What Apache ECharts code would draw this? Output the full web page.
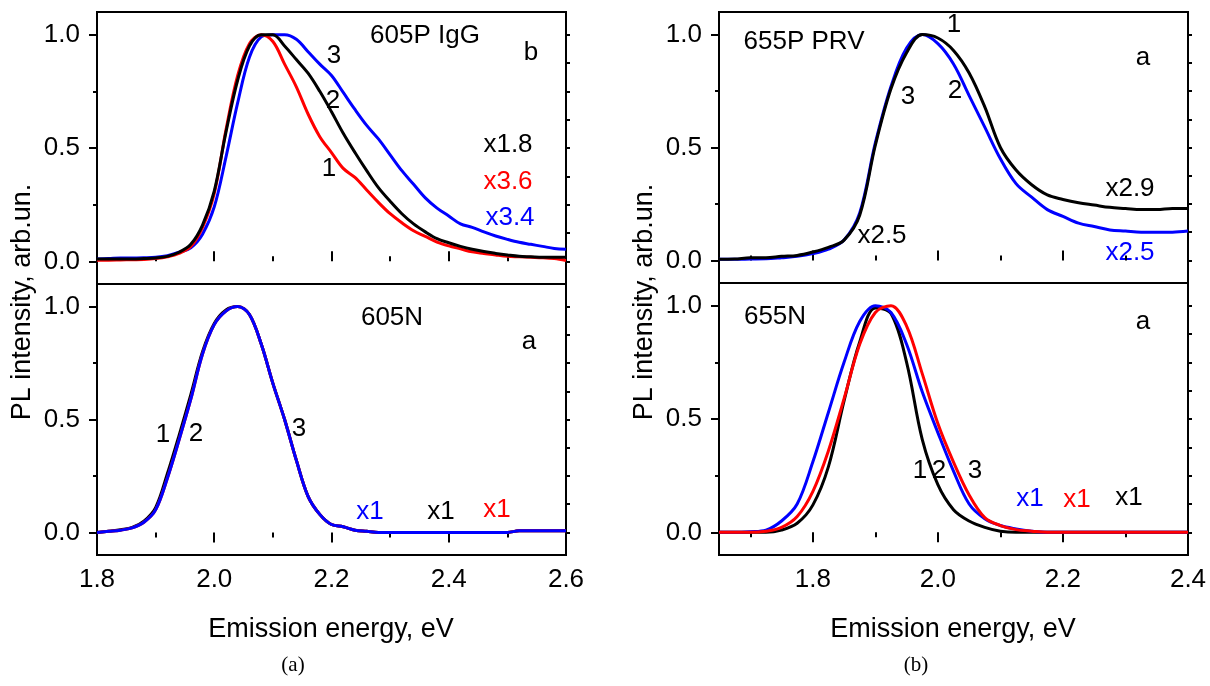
<!DOCTYPE html>
<html><head><meta charset="utf-8">
<script src="https://cdn.jsdelivr.net/npm/echarts@6/dist/echarts.min.js"></script>
<style>html,body{margin:0;padding:0;background:#fff}#c{width:1210px;height:686px}</style>
</head><body><div id="c"></div>
<script>
// ---------- data ----------
const energyA = [1.80,1.82,1.84,1.86,1.88,1.90,1.92,1.94,1.96,1.98,2.00,2.02,2.04,2.06,2.08,2.10,2.12,2.14,2.16,2.18,2.20,2.22,2.24,2.26,2.28,2.30,2.32,2.34,2.36,2.38,2.40,2.42,2.44,2.46,2.48,2.50,2.52,2.54,2.56,2.58,2.60];
const energyB = [1.650,1.675,1.700,1.725,1.750,1.775,1.800,1.825,1.850,1.875,1.900,1.925,1.950,1.975,2.000,2.025,2.050,2.075,2.100,2.125,2.150,2.175,2.200,2.225,2.250,2.275,2.300,2.325,2.350,2.375,2.400];

// 605P IgG (panel a, top)
const igg1 = [0.005,0.005,0.006,0.007,0.008,0.012,0.02,0.035,0.065,0.15,0.30,0.58,0.82,0.96,1.0,0.97,0.87,0.77,0.65,0.55,0.48,0.41,0.37,0.315,0.26,0.21,0.17,0.135,0.11,0.085,0.068,0.055,0.042,0.035,0.028,0.022,0.02,0.018,0.016,0.012,0.004];
const igg2 = [0.01,0.01,0.01,0.01,0.012,0.015,0.022,0.04,0.075,0.16,0.31,0.57,0.80,0.95,1.0,1.0,0.95,0.89,0.83,0.75,0.66,0.565,0.48,0.40,0.325,0.265,0.21,0.165,0.13,0.10,0.082,0.066,0.053,0.043,0.035,0.028,0.022,0.02,0.018,0.018,0.018];
const igg3 = [0.01,0.012,0.015,0.015,0.016,0.018,0.025,0.04,0.06,0.12,0.24,0.46,0.70,0.90,0.99,1.0,1.0,0.98,0.925,0.87,0.82,0.745,0.67,0.60,0.54,0.47,0.40,0.34,0.28,0.235,0.20,0.165,0.15,0.13,0.112,0.097,0.084,0.075,0.066,0.057,0.053];

// 605N (panel a, bottom)
const n605_1 = [0.0,0.005,0.012,0.022,0.05,0.11,0.26,0.43,0.61,0.80,0.925,0.985,1.0,0.965,0.835,0.66,0.50,0.32,0.16,0.08,0.035,0.025,0.01,0.005,0.0,0.0,0.0,0.0,0.0,0.0,0.0,0.0,0.0,0.0,0.0,0.0,0.007,0.007,0.007,0.007,0.007];
const n605_2 = [0.0,0.005,0.01,0.02,0.045,0.10,0.24,0.41,0.59,0.79,0.92,0.98,1.0,0.965,0.835,0.66,0.50,0.32,0.16,0.08,0.035,0.025,0.01,0.005,0.0,0.0,0.0,0.0,0.0,0.0,0.0,0.0,0.0,0.0,0.0,0.0,0.007,0.007,0.007,0.007,0.007];
const n605_3 = [0.0,0.005,0.01,0.02,0.045,0.10,0.24,0.41,0.59,0.79,0.92,0.98,1.0,0.965,0.835,0.66,0.50,0.32,0.16,0.08,0.035,0.025,0.01,0.005,0.0,0.0,0.0,0.0,0.0,0.0,0.0,0.0,0.0,0.0,0.0,0.0,0.007,0.007,0.007,0.007,0.007];

// 655P PRV (panel b, top)
const prv1 = [0.005,0.006,0.012,0.012,0.018,0.022,0.037,0.058,0.09,0.20,0.51,0.76,0.92,1.0,0.985,0.93,0.83,0.68,0.50,0.40,0.335,0.29,0.27,0.255,0.245,0.235,0.23,0.225,0.225,0.23,0.23];
const prv2 = [0.005,0.005,0.006,0.007,0.012,0.018,0.03,0.05,0.09,0.21,0.52,0.77,0.94,1.0,0.96,0.87,0.73,0.59,0.45,0.34,0.28,0.225,0.195,0.165,0.15,0.135,0.13,0.125,0.125,0.125,0.13];

// 655N (panel b, bottom)
const n655_1 = [0,0,0,0,0.01,0.04,0.12,0.29,0.58,0.84,0.99,0.965,0.75,0.41,0.21,0.10,0.05,0.022,0.005,0,0,0,0,0,0,0,0,0,0,0,0];
const n655_2 = [0,0,0,0.005,0.022,0.07,0.18,0.36,0.59,0.83,0.97,1.0,0.91,0.70,0.48,0.31,0.165,0.065,0.03,0.012,0.005,0,0,0,0,0,0,0,0,0,0];
const n655_3 = [0,0,0.003,0.01,0.05,0.125,0.31,0.53,0.75,0.93,1.0,0.97,0.83,0.62,0.44,0.27,0.125,0.06,0.03,0.015,0.005,0,0,0,0,0,0,0,0,0,0];

// tick values
const ticksA = [1.8,2.0,2.2,2.4,2.6];
const minorA = [1.9,2.1,2.3,2.5];
const ticksB = [1.8,2.0,2.2,2.4];
const minorB = [1.7,1.9,2.1,2.3];
const ticksY = [0,0.5,1.0];
const minorY = [0.25,0.75];
const rightY = [0,0.125,0.25,0.375,0.5,0.625,0.75,0.875,1.0];

// text annotations: [text, color, x px, y px]
const notes = [
  ['605P IgG','#000',425,36],['b','#000',531,53],['3','#000',334,56],['2','#000',333,101],['1','#000',329,169],
  ['x1.8','#000',508,145],['x3.6','#ff0000',508,182],['x3.4','#0000ff',510,218],
  ['605N','#000',392,318],['a','#000',529,342],['1','#000',163,435],['2','#000',196,434],['3','#000',299,429],
  ['x1','#0000ff',370,512],['x1','#000',441,512],['x1','#ff0000',497,510],
  ['655P PRV','#000',804,42],['1','#000',954,25],['3','#000',908,97],['2','#000',955,91],['a','#000',1143,58],
  ['x2.5','#000',882,236],['x2.9','#000',1130,189],['x2.5','#0000ff',1130,253],
  ['655N','#000',775,317],['a','#000',1143,322],['1','#000',920,471],['2','#000',939,471],['3','#000',975,471],
  ['x1','#0000ff',1030,499],['x1','#ff0000',1077,500],['x1','#000',1129,498]
];

// ---------- chart ----------
const FONT = '"Liberation Sans", Arial, Helvetica, sans-serif';
const chart = echarts.init(document.getElementById('c'), null, {renderer:'canvas'});

const gridsPx = [
  {left:97, top:12, width:469, height:272},
  {left:97, top:284, width:469, height:271},
  {left:719, top:12, width:469, height:271},
  {left:719, top:283, width:469, height:272}
];
const grid = gridsPx.map(g => Object.assign({show:true, borderColor:'#000', borderWidth:2, containLabel:false, outerBoundsMode:'none', backgroundColor:'transparent'}, g));

const tickStyle = {color:'#000', width:2};
function xAxes(g, min, max, major, minor, labels) {
  const inside = !labels;
  return [
    {type:'value', gridIndex:g, position:'bottom', min, max, axisLine:{show:false}, splitLine:{show:false},
     axisTick:{show:true, inside, length:10, lineStyle:tickStyle, customValues:major},
     axisLabel:{show:labels, customValues:major, margin:12, color:'#000', fontSize:26, fontFamily:FONT,
                formatter:v=>Number(v).toFixed(1)}},
    {type:'value', gridIndex:g, position:'bottom', min, max, axisLine:{show:false}, splitLine:{show:false},
     axisTick:{show:true, inside, length:5, lineStyle:tickStyle, customValues:minor},
     axisLabel:{show:false}}
  ];
}
function yAxes(g) {
  const base = {type:'value', gridIndex:g, min:-0.1, max:1.1, axisLine:{show:false}, splitLine:{show:false}};
  return [
    Object.assign({}, base, {position:'left',
      axisTick:{show:true, length:8, lineStyle:tickStyle, customValues:ticksY},
      axisLabel:{show:true, customValues:ticksY, margin:17, color:'#000', fontSize:26, fontFamily:FONT,
                 formatter:v=>Number(v).toFixed(1)}}),
    Object.assign({}, base, {position:'left',
      axisTick:{show:true, length:4, lineStyle:tickStyle, customValues:minorY}, axisLabel:{show:false}}),
    Object.assign({}, base, {position:'right',
      axisTick:{show:true, length:4, lineStyle:tickStyle, customValues:rightY}, axisLabel:{show:false}})
  ];
}

const xAxis = [].concat(
  xAxes(0, 1.8, 2.6, ticksA, minorA, false),
  xAxes(1, 1.8, 2.6, ticksA, minorA, true),
  xAxes(2, 1.65, 2.4, ticksB, minorB, false),
  xAxes(3, 1.65, 2.4, ticksB, minorB, true)
);
const yAxis = [].concat(yAxes(0), yAxes(1), yAxes(2), yAxes(3));

function line(xs, ys, color, p) {
  return {type:'line', xAxisIndex:2*p, yAxisIndex:3*p, data:xs.map((x,i)=>[x, ys[i]]),
    showSymbol:false, symbol:'none', smooth:0.35, silent:true,
    lineStyle:{color, width:3, join:'round'}, itemStyle:{color}, emphasis:{disabled:true}};
}
const series = [
  line(energyA, igg3, '#0000ff', 0), line(energyA, igg1, '#ff0000', 0), line(energyA, igg2, '#000000', 0),
  line(energyA, n605_1, '#000000', 1), line(energyA, n605_2, '#ff0000', 1), line(energyA, n605_3, '#0000ff', 1),
  line(energyB, prv2, '#0000ff', 2), line(energyB, prv1, '#000000', 2),
  line(energyB, n655_1, '#000000', 3), line(energyB, n655_3, '#0000ff', 3), line(energyB, n655_2, '#ff0000', 3)
];

function txt(text, x, y, color, size, family, rot) {
  return {type:'text', x, y, rotation:rot||0, silent:true,
    style:{text, fill:color, fontSize:size, fontFamily:family, align:'center', verticalAlign:'middle'}};
}
const graphic = notes.map(n => txt(n[0], n[2], n[3], n[1], 26, FONT));
graphic.push(txt('PL intensity, arb.un.', 23, 302, '#000', 27, FONT, Math.PI/2));
graphic.push(txt('PL intensity, arb.un.', 645, 302, '#000', 27, FONT, Math.PI/2));
graphic.push(txt('Emission energy, eV', 331, 630, '#000', 27, FONT));
graphic.push(txt('Emission energy, eV', 953, 630, '#000', 27, FONT));
graphic.push(txt('(a)', 293, 665, '#000', 21, '"Liberation Serif", "Times New Roman", serif'));
graphic.push(txt('(b)', 916, 665, '#000', 21, '"Liberation Serif", "Times New Roman", serif'));

chart.setOption({animation:false, backgroundColor:'#fff', grid, xAxis, yAxis, series, graphic, tooltip:{show:false}});
</script></body></html>
